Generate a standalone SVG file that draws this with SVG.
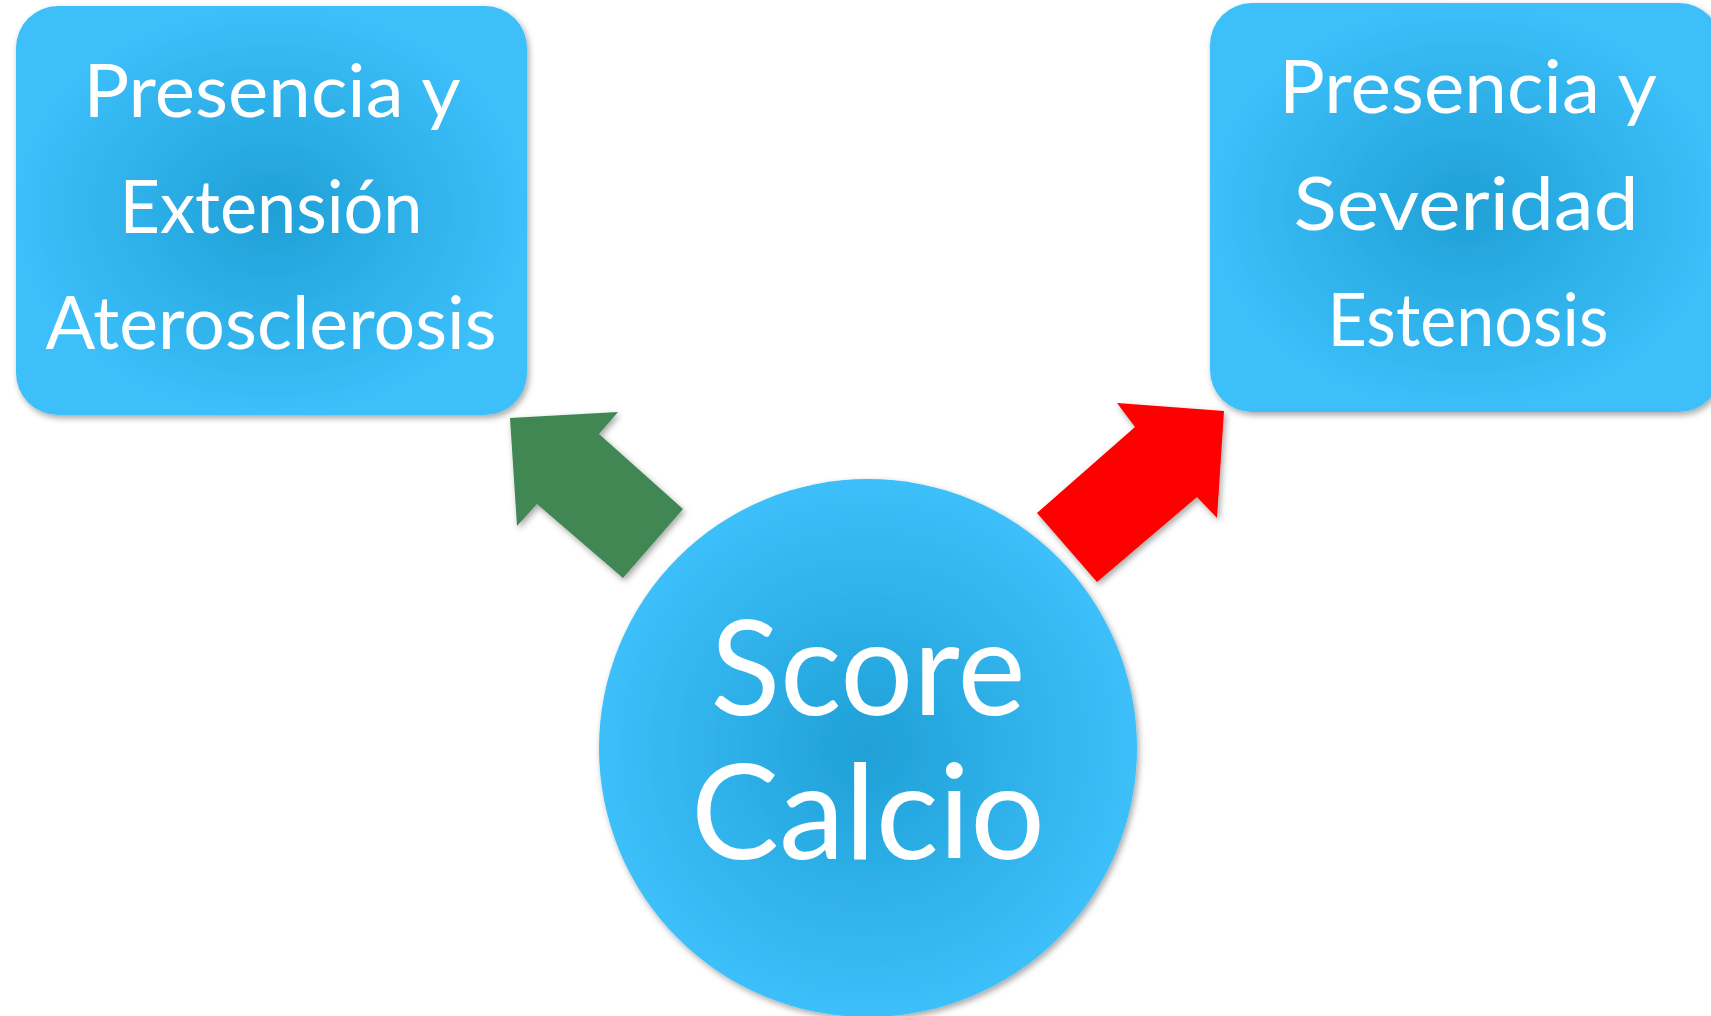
<svg xmlns="http://www.w3.org/2000/svg" width="1711" height="1016" viewBox="0 0 1711 1016">
<style>
.lbl{font-family:Lato,"Open Sans","Liberation Sans",sans-serif;fill:#ffffff;text-anchor:middle;font-size:74px;}
.big{font-size:132px;}
</style>
<defs>
<radialGradient id="bg" cx="50%" cy="50%" r="50%">
<stop offset="0" stop-color="#1fa0d6"/>
<stop offset="1" stop-color="#3cbffa"/>
</radialGradient>
<filter id="sh" x="-10%" y="-10%" width="125%" height="125%">
<feDropShadow dx="2" dy="3" stdDeviation="3" flood-color="#000" flood-opacity="0.35"/>
</filter>
</defs>
<g id="connectors">
<polygon id="arrow-green" points="510,418 618,412 599,434 683,509 623,578 537,504 517,526" fill="#3f8752" filter="url(#sh)"/>
<polygon id="arrow-red" points="1117,403 1224,411 1217,518 1197,497 1097,582 1037,513 1135,427" fill="#ff0000" filter="url(#sh)"/>
</g>
<g id="node-left">
<rect x="16" y="6" width="511" height="409" rx="42" fill="url(#bg)" filter="url(#sh)"/>
<text class="lbl" x="272" y="117" textLength="377" lengthAdjust="spacingAndGlyphs">Presencia y</text>
<text class="lbl" x="271" y="233" textLength="303" lengthAdjust="spacingAndGlyphs">Extensión</text>
<text class="lbl" x="271" y="349" textLength="451" lengthAdjust="spacingAndGlyphs">Aterosclerosis</text>
</g>
<g id="node-right">
<rect x="1210" y="3" width="511" height="409" rx="42" fill="url(#bg)" filter="url(#sh)"/>
<text class="lbl" x="1468" y="113" textLength="378" lengthAdjust="spacingAndGlyphs">Presencia y</text>
<text class="lbl" x="1466" y="230" textLength="345" lengthAdjust="spacingAndGlyphs">Severidad</text>
<text class="lbl" x="1468" y="346" textLength="281" lengthAdjust="spacingAndGlyphs">Estenosis</text>
</g>
<g id="node-center">
<circle cx="868" cy="748" r="269" fill="url(#bg)" filter="url(#sh)"/>
<text class="lbl big" x="868" y="715" textLength="315" lengthAdjust="spacingAndGlyphs">Score</text>
<text class="lbl big" x="868" y="859" textLength="354" lengthAdjust="spacingAndGlyphs">Calcio</text>
</g>
</svg>
